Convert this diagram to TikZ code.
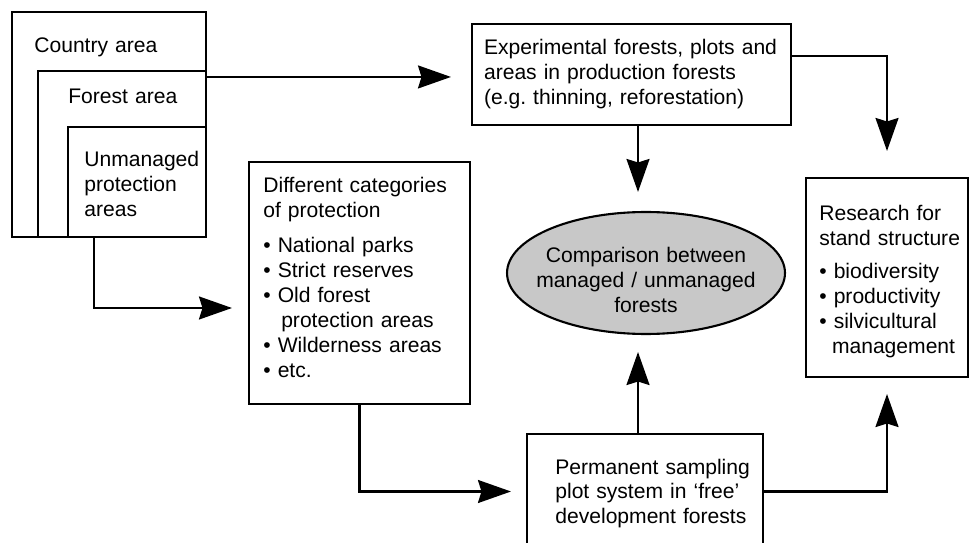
\documentclass[tikz,border=0pt]{standalone}
\usepackage{fontspec}
\setmainfont{Liberation Sans}
\usetikzlibrary{arrows.meta,shapes.geometric}

\definecolor{cmpgray}{RGB}{200,200,200}

\tikzset{
  box/.style={rectangle, draw, line width=1.2pt, inner sep=0pt},
  txt/.style={anchor=base west, inner sep=0pt, align=left, text width=#1},
  arr/.style={-{Stealth[length=0.66cm, width=0.46cm, inset=0.07cm]}, line width=1.2pt, shorten >=0.32cm},
}

\begin{document}
\begin{tikzpicture}[x=0.02cm, y=-0.02cm, font=\fontsize{12}{14.2}\selectfont]
  \useasboundingbox (0,0) rectangle (969,543);
  \clip (0,0) rectangle (969,543);
  % Nested areas
  \node (country) [box, minimum width=3.88cm, minimum height=4.5cm] at (109,124.5) {};
  \node (forest) [box, minimum width=3.36cm, minimum height=3.32cm] at (122,154) {};
  \node (unman) [box, minimum width=2.76cm, minimum height=2.2cm] at (137,182) {};
  \node (country-txt) [txt=3.5cm] at (34,53) {Country area};
  \node (forest-txt) [txt=3cm] at (68,104) {Forest area};
  \node (unman-txt) [txt=2.5cm] at (84,167) {Unmanaged\\protection\\areas};
  % Boxes
  \node (exper) [box, minimum width=6.38cm, minimum height=2.02cm, text width=5.9cm, align=left] at (631.5,74.5)
    {Experimental forests, plots and\\areas in production forests\\(e.g.\ thinning, reforestation)};
  \node (cats) [box, minimum width=4.42cm, minimum height=4.84cm] at (359.5,283) {};
  \node (cats-txt) [txt=4.2cm] at (263,193)
    {Different categories\\of protection\\[0.2cm]
     \textbullet\ National parks\\\textbullet\ Strict reserves\\\textbullet\ Old forest\\
     \hspace*{0.85em}protection areas\\\textbullet\ Wilderness areas\\\textbullet\ etc.};
  \node (res) [box, minimum width=3.24cm, minimum height=3.98cm] at (887,277.5) {};
  \node (res-txt) [txt=3cm] at (819,221)
    {Research for\\stand structure\\[0.16cm]
     \textbullet\ biodiversity\\\textbullet\ productivity\\\textbullet\ silvicultural\\
     \hspace*{0.6em}management};
  \node (perm) [box, minimum width=4.72cm, minimum height=2.3cm] at (645,491.5) {};
  \node (perm-txt) [txt=4cm] at (555,474)
    {Permanent sampling\\plot system in ‘free’\\development forests};
  \node (cmp) [ellipse, draw, fill=cmpgray, line width=1.2pt,
    minimum width=5.56cm, minimum height=2.44cm] at (646,273) {};
  \node (cmp-txt) [anchor=base, inner sep=0pt, align=center, text width=5cm] at (646,263)
    {Comparison between\\managed / unmanaged\\forests};
  % Arrows
  \draw[arr, shorten >=0.4cm] ([yshift=-0.14cm]forest.north east) -- ([yshift=-0.14cm]forest.north east -| exper.west);
  \draw[arr, shorten >=0.52cm] ([yshift=0.37cm]exper.east) -| (res.north);
  \draw[arr, shorten >=0.38cm] ([xshift=0.13cm]exper.south) -- ([xshift=0.13cm]exper.south |- cmp.north);
  \draw[arr, shorten >=0.34cm] ([xshift=0.13cm]exper.south |- perm.north) -- ([xshift=0.13cm]exper.south |- cmp.south);
  \draw[arr] ([xshift=-0.86cm]unman.south) |- ([yshift=-0.5cm]cats.west);
  \draw[arr, shorten >=0.3cm] (cats.south) |- (perm.west);
  \draw[arr] (perm.east) -| (res.south);
\end{tikzpicture}
\end{document}
